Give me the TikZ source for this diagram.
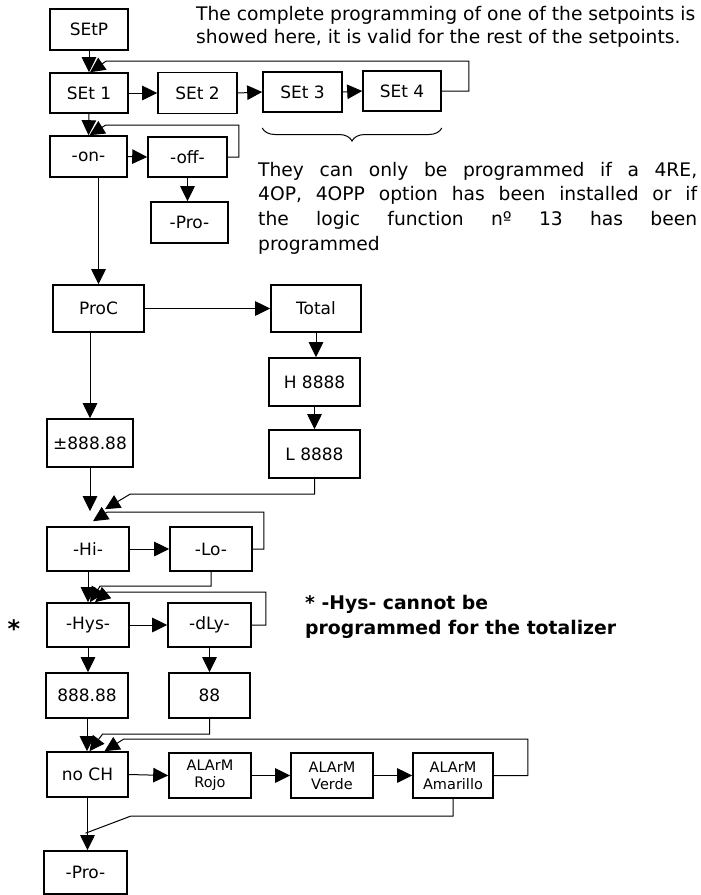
\documentclass[tikz,border=0pt]{standalone}
\usepackage{fontspec}
\setmainfont{DejaVu Sans}
\usetikzlibrary{arrows.meta,calc,decorations.pathreplacing}
\begin{document}
\begin{tikzpicture}[x=1pt,y=-1pt,
  box/.style={draw, line width=1.6pt, inner sep=0pt, align=center, font=\fontsize{17}{19}\selectfont},
  abox/.style={box, font=\fontsize{14.5}{17}\selectfont},
  sz/.style n args={2}{minimum width=#1pt, minimum height=#2pt},
  ln/.style={line width=1pt},
  arr/.style={line width=1pt, -{Triangle[length=15pt,width=14.5pt]}},
  txt/.style={inner sep=0pt, anchor=base west, font=\fontsize{18.7}{23}\selectfont},
  btxt/.style={txt, font=\fontsize{18.8}{23}\selectfont\bfseries}]
\useasboundingbox (0,0) rectangle (701,895);
\fill[white] (0,0) rectangle (701,895);
% boxes
\node[box, sz={78}{41}] (setp) at (89,29.5) {SEtP};
\node[box, sz={78}{40}] (set1) at (89,93) {SEt 1};
\node[box, sz={79}{41}] (set2) at (197.5,93) {SEt 2};
\node[box, sz={79}{40}] (set3) at (302.5,92) {SEt 3};
\node[box, sz={78}{40}] (set4) at (402,91) {SEt 4};
\node[box, sz={77}{41}] (on) at (88.5,156.5) {-on-};
\node[box, sz={79}{40}] (off) at (187.5,157) {-off-};
\node[box, sz={77}{41}] (pro1) at (189.5,222.5) {-Pro-};
\node[box, sz={91}{47}] (proc) at (98.5,308.5) {ProC};
\node[box, sz={90}{47}] (total) at (316,308.5) {Total};
\node[box, sz={91}{48}] (h) at (314.5,382) {H 8888};
\node[box, sz={91}{48}] (l) at (314.5,454) {L 8888};
\node[box, sz={86}{48}] (pm) at (90,443) {±888.88};
\node[box, sz={82}{44}] (hi) at (88,549) {-Hi-};
\node[box, sz={82}{44}] (lo) at (211,549) {-Lo-};
\node[box, sz={82}{44}] (hys) at (88,625) {-Hys-};
\node[box, sz={83}{44}] (dly) at (209.5,625) {-dLy-};
\node[box, sz={82}{45}] (v1) at (87,695.5) {888.88};
\node[box, sz={81}{45}] (v2) at (209.5,695.5) {88};
\node[box, sz={81}{45}] (noch) at (87.5,774.5) {no CH};
\node[abox, sz={82}{45}] (rojo) at (210,775.5) {ALArM\\Rojo};
\node[abox, sz={82}{45}] (verde) at (332,775.5) {ALArM\\Verde};
\node[abox, sz={80}{45}] (amar) at (453,775.5) {ALArM\\Amarillo};
\node[box, sz={83}{43}] (pro2) at (85.5,872.5) {-Pro-};
% connectors
\draw[arr] (setp.south) -- (set1.north);
\draw[arr] (set4.east) -- ++(27,0) |- ($(set1.north)+(17,-11)$) -- ($(set1.north)+(1,0)$);
\draw[arr] (set1.east) -- (set2.west);
\draw[arr] (set2.east) -- (set3.west);
\draw[arr] (set3.east) -- (set4.west);
\draw[arr] (set1.south) -- (on.north);
\draw[arr] (on.east) -- (off.west);
\draw[arr] (off.east) -- ++(11,0) |- ($(on.north)+(17,-10)$) -- ($(on.north)+(1,0)$);
\draw[arr] (off.south) -- (off.south |- pro1.north);
\draw[arr] (on.south -| proc.north) -- (proc.north);
\draw[arr] (proc.east) -- (total.west);
\draw[arr] (total.south) -- (total.south |- h.north);
\draw[arr] (h.south) -- (l.north);
\draw[arr] (proc.south -| pm.north) -- (pm.north);
\draw[arr] (pm.south) -- ($(pm.south |- hi.north)+(0,-15)$);
\draw[arr] (l.south) |- ($(hi.north)+(42,-32)$) -- ($(hi.north)+(17,-17)$);
\draw[arr] (hi.east) -- (lo.west);
\draw[arr] (lo.east) -- ++(11,0) |- ($(hi.north)+(19,-14)$) -- ($(hi.north)+(5,-5)$);
\draw[arr] (hi.south) -- (hys.north);
\draw[arr] (lo.south) |- ($(hys.north)+(12,-16)$) -- ($(hys.north)+(2,0)$);
\draw[arr] (dly.east) -- ++(14,0) |- ($(hys.north)+(19,-10)$) -- ($(hys.north)+(7,0)$);
\draw[arr] (hys.east) -- (dly.west);
\draw[arr] (hys.south) -- (hys.south |- v1.north);
\draw[arr] (dly.south) -- (dly.south |- v2.north);
\draw[arr] (v1.south) -- (v1.south |- noch.north);
\draw[arr] (v2.south) |- ($(noch.north)+(15,-17)$) -- ($(noch.north)+(2,0)$);
\draw[arr] (amar.east) -- ++(34,0) |- ($(noch.north)+(36,-12)$) -- ($(noch.north)+(17,0)$);
\draw[arr] (noch.east) -- (rojo.west);
\draw[arr] (rojo.east) -- (verde.west);
\draw[arr] (verde.east) -- (amar.west);
\draw[arr] (noch.south) -- (noch.south |- pro2.north);
\draw[ln] (amar.south) |- ($(pro2.north)+(45,-34)$) -- ($(pro2.north)+(0,-17)$);
% brace
\draw[ln, decorate, decoration={brace, mirror, amplitude=13pt}] (set3.south west |- 0,128) -- (set4.south east |- 0,128);
% texts
\node[txt] (t1) at (196,20) {The complete programming of one of the setpoints is};
\node[txt] (t2) at (196,43) {showed here, it is valid for the rest of the setpoints.};
\node[txt] (p1) at (258,176) {\makebox[439pt][s]{They can only be programmed if a 4RE,}};
\node[txt] (p2) at (258,200.5) {\makebox[439pt][s]{4OP, 4OPP option has been installed or if}};
\node[txt] (p3) at (258,225) {\makebox[439pt][s]{the logic function nº 13 has been}};
\node[txt] (p4) at (258,250) {programmed};
\node[btxt] (b1) at (305,609) {* -Hys- cannot be};
\node[btxt] (b2) at (305,634) {programmed for the totalizer};
\node[inner sep=0pt, font=\fontsize{24}{24}\selectfont\bfseries] (star) at (14,629) {*};
\end{tikzpicture}
\end{document}
